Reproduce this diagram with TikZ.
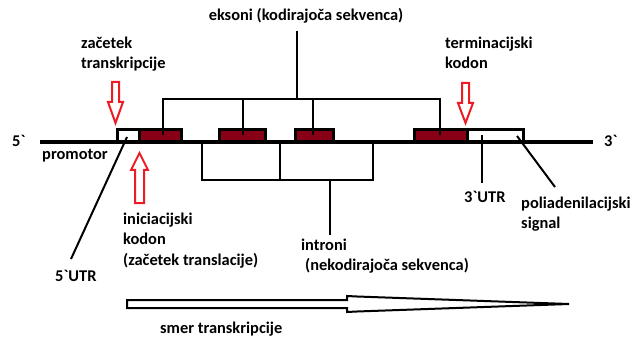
\documentclass[tikz,border=0pt]{standalone}
\usepackage{fontspec}
\setmainfont{Carlito}[Ligatures=TeXOff]
\usetikzlibrary{calc}
\definecolor{exred}{RGB}{136,0,21}
\definecolor{pred}{RGB}{237,28,36}
\begin{document}
\begin{tikzpicture}[x=1pt,y=-1pt,
  lbl/.style={font=\fontsize{16.4}{20.2}\selectfont\bfseries, inner sep=0pt, align=left},
  exonbox/.style={draw=black, line width=3pt, fill=exred, inner sep=0pt, minimum height=12pt},
  utrbox/.style={exonbox, fill=white},
  strand/.style={line width=3.5pt},
  brk/.style={line width=2pt},
  pointer/.style={line width=2pt},
  redarrow/.style={draw=pred, line width=2pt, fill=white, line join=miter},
  bigarrow/.style={draw=black, line width=2pt, fill=white, line join=miter}]
\useasboundingbox (0,0) rectangle (634,339);

% DNA strand
\coordinate (s5) at (40,142);
\coordinate (s3) at (593,142);
\draw[strand] (s5) -- (s3);
\node[lbl, anchor=base west] (end5) at (12,147) {5`};
\node[lbl, anchor=base west] (end3) at (604,147) {3`};

% UTRs and exons
\node[utrbox, minimum width=21.5pt] (utr5) at (128.25,135.5) {};
\node[exonbox, minimum width=42.5pt] (e1) at (160.25,135.5) {};
\node[exonbox, minimum width=46pt] (e2) at (242.5,135.5) {};
\node[exonbox, minimum width=38pt] (e3) at (314.5,135.5) {};
\node[exonbox, minimum width=52.5pt] (e4) at (440.75,135.5) {};
\node[utrbox, minimum width=56.5pt] (utr3) at (495.25,135.5) {};

% exon bracket
\coordinate (ekL) at (163,99);
\coordinate (ekR) at (440,99);
\coordinate (ekT) at (297,31);
\draw[brk] (ekL |- e1.center) -- (ekL) -- (ekR) -- (ekR |- e4.center);
\draw[brk] (e2.center) -- (e2.center |- ekL);
\draw[brk] (313,135.5) -- (313,99);
\draw[brk] (ekT) -- (ekT |- ekL);
\node[lbl, anchor=base] (eks) at (306,21) {eksoni (kodirajoča sekvenca)};

% intron bracket
\coordinate (iA) at (202,180);
\coordinate (iB) at (280,180);
\coordinate (iC) at (373,180);
\coordinate (iT) at (330,235);
\draw[brk] (iA |- s5) -- (iA) -- (iC) -- (iC |- s5);
\draw[brk] (iB |- s5) -- (iB);
\draw[brk] (iT |- iA) -- (iT);
\node[lbl, anchor=north west] (intr) at (301,239) {introni\\\hspace{4pt}(nekodirajoča sekvenca)};

% pointers to the UTRs and signal
\coordinate (p5) at (71,259);
\draw[pointer] (127,137) -- (p5);
\node[lbl, anchor=base west] (lutr5) at (55,281) {5`UTR};
\coordinate (u3a) at (482,135.5);
\coordinate (u3b) at (482,183);
\draw[pointer] (u3a) -- (u3b);
\node[lbl, anchor=base west] (lutr3) at (464,202) {3`UTR};
\coordinate (pa) at (517,136);
\coordinate (pb) at (555,187);
\draw[pointer] (pa) -- (pb);
\node[lbl, anchor=north west] (poly) at (521,197) {poliadenilacijski\\signal};

\node[lbl, anchor=base west] (prom) at (42,160) {promotor};

% red markers
\draw[redarrow] (112,82) -- (119,82) -- (119,102) -- (123,102) -- (115.5,123) -- (108,102) -- (112,102) -- cycle;
\node[lbl, anchor=north west] (ztr) at (81,37) {začetek\\transkripcije};
\draw[redarrow] (135,203) -- (144,203) -- (144,170) -- (148,170) -- (139.5,153) -- (131,170) -- (135,170) -- cycle;
\node[lbl, anchor=north west] (ini) at (123,213) {iniciacijski\\kodon\\(začetek translacije)};
\draw[redarrow] (462,83) -- (469,83) -- (469,103) -- (473,103) -- (465.5,123) -- (458,103) -- (462,103) -- cycle;
\node[lbl, anchor=north west] (term) at (445,37) {terminacijski\\kodon};

% direction of transcription
\draw[bigarrow] (127,300) -- (347,300) -- (347,296) -- (357,296.5) -- (569,304) -- (357,311.5) -- (347,312) -- (347,308) -- (127,308) -- cycle;
\node[lbl, anchor=base west] (smer) at (160,333) {smer transkripcije};
\end{tikzpicture}
\end{document}
